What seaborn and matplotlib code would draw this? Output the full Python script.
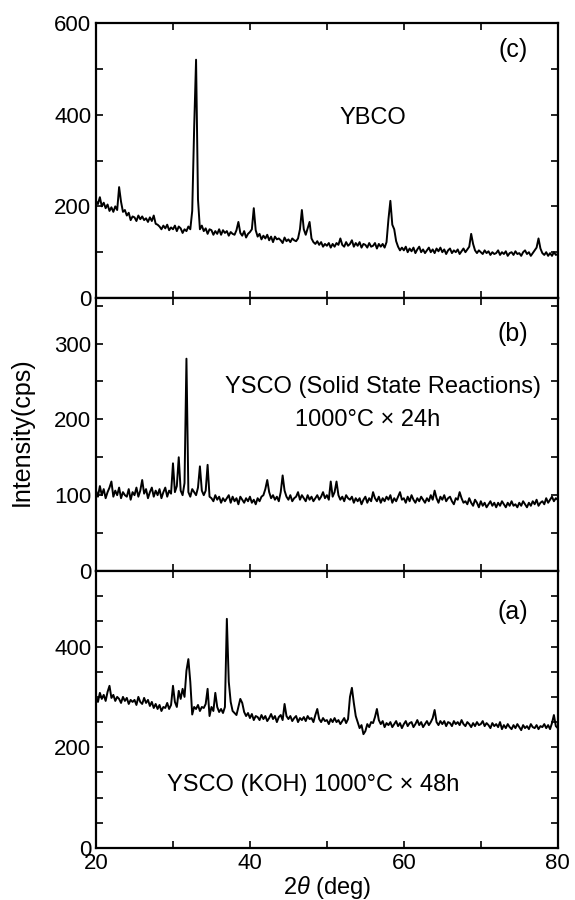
import numpy as np
import pandas as pd
import matplotlib
matplotlib.use("Agg")
import matplotlib.pyplot as plt
from matplotlib.ticker import MultipleLocator
import seaborn as sns

# 2theta grid, 0.25 deg steps from 20 to 80
two_theta = np.arange(241) * 0.25 + 20

# (c) YBCO, values (4 per degree)
ybco = [
    212, 205, 220, 200, 208, 196, 204, 190, 198, 188, 200, 192, 242, 210, 188, 192,
    180, 186, 170, 178, 176, 168, 180, 172, 178, 170, 174, 166, 176, 168, 180, 162,
    160, 156, 150, 158, 152, 160, 148, 154, 150, 158, 146, 156, 152, 142, 150, 146,
    156, 150, 190, 370, 520, 215, 150, 158, 146, 152, 140, 150, 148, 138, 146, 140,
    150, 138, 148, 142, 146, 136, 144, 140, 138, 148, 166, 142, 136, 146, 132, 140,
    144, 150, 196, 148, 134, 140, 128, 136, 130, 138, 126, 134, 122, 134, 128, 130,
    126, 120, 132, 124, 128, 122, 130, 126, 124, 130, 150, 192, 150, 138, 152, 166,
    130, 122, 118, 124, 116, 122, 112, 118, 114, 120, 110, 118, 112, 120, 116, 130,
    116, 112, 122, 114, 118, 126, 112, 120, 114, 122, 110, 118, 116, 110, 120, 112,
    114, 120, 108, 118, 112, 118, 110, 122, 172, 212, 160, 150, 124, 112, 104, 110,
    104, 112, 100, 108, 102, 110, 98, 106, 112, 100, 106, 98, 104, 110, 100, 106,
    98, 108, 102, 110, 100, 106, 96, 104, 108, 98, 104, 100, 106, 96, 102, 108,
    100, 106, 112, 140, 118, 104, 98, 104, 100, 96, 104, 98, 102, 94, 100, 96,
    98, 104, 94, 100, 96, 102, 92, 98, 100, 94, 102, 96, 98, 92, 100, 104,
    96, 100, 92, 98, 104, 110, 130, 108, 98, 94, 100, 92, 98, 92, 100, 94,
    96,
]

# (b) YSCO solid state reaction
ysco_ssr = [
    106, 98, 112, 100, 108, 96, 104, 110, 118, 98, 106, 100, 110, 96, 104, 100,
    98, 108, 94, 104, 100, 110, 98, 106, 120, 102, 108, 96, 104, 110, 98, 106,
    100, 108, 96, 104, 110, 98, 106, 102, 142, 104, 112, 150, 106, 100, 116, 280,
    104, 98, 108, 104, 100, 110, 138, 106, 100, 106, 140, 98, 96, 92, 100, 94,
    98, 90, 96, 92, 96, 100, 90, 98, 92, 96, 88, 98, 94, 90, 96, 92,
    98, 90, 94, 88, 96, 92, 98, 100, 108, 120, 104, 96, 100, 94, 98, 92,
    104, 126, 106, 98, 94, 100, 92, 96, 98, 104, 94, 100, 96, 92, 100, 94,
    98, 92, 96, 100, 94, 98, 104, 96, 100, 94, 118, 98, 104, 118, 100, 94,
    98, 92, 100, 96, 94, 98, 90, 96, 92, 96, 88, 94, 98, 90, 96, 92,
    104, 96, 92, 98, 90, 96, 92, 98, 94, 100, 90, 96, 92, 98, 104, 94,
    96, 90, 98, 92, 100, 94, 90, 96, 92, 98, 94, 90, 96, 92, 100, 94,
    106, 96, 90, 98, 94, 100, 92, 96, 98, 92, 88, 96, 94, 104, 96, 90,
    92, 88, 96, 90, 86, 94, 90, 84, 92, 86, 90, 84, 88, 92, 86, 90,
    84, 90, 86, 92, 88, 84, 90, 86, 92, 86, 88, 84, 90, 86, 92, 88,
    84, 90, 86, 92, 88, 94, 86, 90, 92, 88, 96, 90, 94, 98, 92, 96,
    94,
]

# (a) YSCO KOH flux
ysco_koh = [
    300, 290, 308, 296, 304, 292, 310, 322, 298, 304, 292, 300, 296, 288, 300, 292,
    298, 286, 294, 290, 294, 284, 300, 290, 286, 298, 288, 294, 282, 290, 278, 286,
    276, 284, 272, 280, 278, 288, 276, 284, 322, 290, 280, 312, 296, 316, 300, 352,
    375, 330, 265, 280, 276, 284, 272, 280, 278, 286, 316, 262, 280, 272, 308, 280,
    270, 276, 268, 280, 455, 330, 290, 272, 268, 264, 280, 296, 288, 270, 262, 268,
    258, 266, 254, 262, 260, 254, 264, 256, 262, 252, 258, 266, 256, 262, 250, 260,
    264, 254, 286, 262, 256, 262, 252, 258, 262, 250, 258, 254, 260, 252, 262, 256,
    258, 250, 264, 276, 256, 250, 258, 252, 254, 246, 256, 250, 258, 250, 254, 246,
    252, 258, 248, 256, 300, 318, 288, 262, 250, 238, 244, 226, 232, 246, 240, 250,
    248, 260, 276, 254, 246, 252, 240, 248, 244, 250, 240, 246, 252, 242, 248, 238,
    246, 252, 242, 248, 250, 240, 246, 254, 244, 250, 240, 246, 252, 244, 250, 258,
    274, 250, 244, 252, 246, 252, 242, 250, 248, 242, 252, 246, 250, 244, 254, 246,
    242, 250, 246, 240, 248, 242, 250, 244, 246, 252, 242, 248, 244, 238, 248, 242,
    246, 240, 250, 236, 244, 238, 246, 240, 236, 244, 238, 246, 240, 234, 244, 238,
    242, 236, 246, 240, 238, 244, 236, 242, 240, 246, 238, 244, 236, 248, 264, 242,
    238,
]

sns.set_theme(style="ticks")
plt.rcParams['font.family'] = ['Liberation Sans', 'DejaVu Sans']
plt.rcParams['mathtext.fontset'] = 'custom'
plt.rcParams['mathtext.it'] = 'Liberation Sans:italic'
plt.rcParams['mathtext.rm'] = 'Liberation Sans'
plt.rcParams['text.color'] = 'black'
plt.rcParams['axes.labelcolor'] = 'black'

fig = plt.figure(figsize=(5.75, 9), dpi=100)
gs = fig.add_gridspec(3, 1, height_ratios=[275, 273, 277], hspace=0,
                      left=0.167, right=0.970, top=0.9744, bottom=0.0578)

panels = [
    (ybco, (0, 600), 200, 100, "(c)", 541),
    (ysco_ssr, (0, 360), 100, 50, "(b)", 312),
    (ysco_koh, (0, 550), 200, 50, "(a)", 468),
]

axes = []
for k, (vals, ylim, major, minor, tag, tag_y) in enumerate(panels):
    ax = fig.add_subplot(gs[k])
    df = pd.DataFrame({"two_theta": two_theta, "intensity": vals})
    sns.lineplot(data=df, x="two_theta", y="intensity", ax=ax, color="black",
                 linewidth=1.4, estimator=None)
    ax.set_xlim(20, 80)
    ax.set_ylim(*ylim)
    ax.xaxis.set_major_locator(MultipleLocator(20))
    ax.xaxis.set_minor_locator(MultipleLocator(10))
    ax.yaxis.set_major_locator(MultipleLocator(major))
    ax.yaxis.set_minor_locator(MultipleLocator(minor))
    ax.tick_params(which="both", direction="in", top=True, right=True,
                   length=5, width=1.2, labelsize=16, colors="black")
    ax.set_xlabel("")
    ax.set_ylabel("")
    for s in ax.spines.values():
        s.set_linewidth(1.6)
        s.set_color("black")
    ax.text(74.2, tag_y, tag, ha="center", va="center", fontsize=18)
    if k < 2:
        ax.tick_params(labelbottom=False)
    axes.append(ax)

axes[0].text(56.0, 393, "YBCO", ha="center", va="center", fontsize=17)
axes[1].text(57.3, 242, "YSCO (Solid State Reactions)", ha="center", va="center", fontsize=17)
axes[1].text(55.3, 199, "1000°C × 24h", ha="center", va="center", fontsize=17)
axes[2].text(48.2, 125, "YSCO (KOH) 1000°C × 48h", ha="center", va="center", fontsize=17)
axes[2].set_xlabel(r"2$\it{\theta}$ (deg)", fontsize=17, labelpad=0)

fig.text(0.038, 0.52, "Intensity(cps)", rotation=90, ha="center", va="center",
         fontsize=18)

fig.savefig("out.png", dpi=100)
